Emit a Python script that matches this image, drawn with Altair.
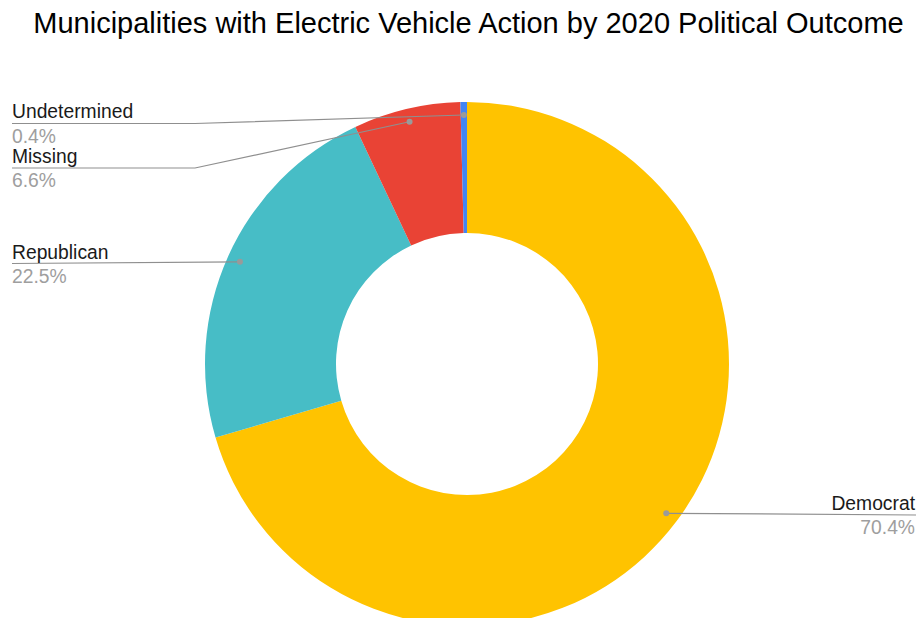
import numpy as np
import pandas as pd
import altair as alt

# ---- data ----
categories = ["Democrat", "Republican", "Missing", "Undetermined"]
shares = [70.4, 22.5, 6.6, 0.4]
pct_labels = ["70.4%", "22.5%", "6.6%", "0.4%"]
colors = ["#FFC300", "#47BDC6", "#E94335", "#4285F4"]
title_text = "Municipalities with Electric Vehicle Action by 2020 Political Outcome"

# ---- layout (pixel positions within the view) ----
W, H = 908, 610
CX, CY = 459, 356
R_OUT, R_IN, R_DOT = 262, 131, 249
label_side = {"Democrat": "right", "Republican": "left", "Missing": "left", "Undetermined": "left"}
label_x = {"Democrat": 907, "Republican": 4, "Missing": 4, "Undetermined": 4}
name_y = {"Democrat": 502, "Republican": 250.5, "Missing": 155, "Undetermined": 110}
pct_y = {"Democrat": 525.5, "Republican": 274.5, "Missing": 179, "Undetermined": 135}
line_y = {"Democrat": 507, "Republican": 255.5, "Missing": 160, "Undetermined": 115.5}
elbow_x = {"Republican": None, "Missing": 187, "Undetermined": 187}

# ---- derived tables ----
df = pd.DataFrame({"category": categories, "share": shares, "pct": pct_labels,
                   "idx": range(len(categories))})
total = float(np.sum(shares))
cum = np.cumsum(shares)
mid = (cum - np.array(shares) / 2) / total * 2 * np.pi
df["dot_x"] = CX + R_DOT * np.sin(mid)
df["dot_y"] = CY - R_DOT * np.cos(mid)

line_rows = []
for _, r in df.iterrows():
    c = r["category"]
    if label_side[c] == "right":
        pts = [(r["dot_x"], r["dot_y"]), (label_x[c] + 2, line_y[c])]
    else:
        pts = [(label_x[c], line_y[c])]
        if elbow_x[c] is not None:
            pts.append((elbow_x[c], line_y[c]))
        pts.append((r["dot_x"], r["dot_y"]))
    for k, (px, py) in enumerate(pts):
        line_rows.append({"category": c, "seq": k, "x": px, "y": py})
lines_df = pd.DataFrame(line_rows)

lab_df = pd.DataFrame({
    "category": categories,
    "pct": pct_labels,
    "side": [label_side[c] for c in categories],
    "x": [label_x[c] for c in categories],
    "ny": [name_y[c] for c in categories],
    "py": [pct_y[c] for c in categories],
})

xs = alt.Scale(domain=[0, W], nice=False, zero=False)
ys = alt.Scale(domain=[0, H], nice=False, zero=False, reverse=True)

donut = alt.Chart(df).mark_arc(innerRadius=R_IN, outerRadius=R_OUT).encode(
    theta=alt.Theta("share:Q", stack=True),
    order=alt.Order("idx:Q"),
    color=alt.Color("category:N", scale=alt.Scale(domain=categories, range=colors), legend=None),
    x=alt.value(CX),
    y=alt.value(CY),
)

leaders = alt.Chart(lines_df).mark_line(color="#8f8f8f", strokeWidth=1.2).encode(
    x=alt.X("x:Q", scale=xs, axis=None),
    y=alt.Y("y:Q", scale=ys, axis=None),
    detail="category:N",
    order="seq:Q",
)

dots = alt.Chart(df).mark_circle(color="#9a9a9a", opacity=1, size=36).encode(
    x=alt.X("dot_x:Q", scale=xs, axis=None),
    y=alt.Y("dot_y:Q", scale=ys, axis=None),
)

FONT = "Liberation Sans"
left = lab_df[lab_df.side == "left"]
right = lab_df[lab_df.side == "right"]

def labels(data, align):
    names = alt.Chart(data).mark_text(align=align, baseline="alphabetic", font=FONT,
                                      fontSize=19.3, color="#1a1a1a").encode(
        x=alt.X("x:Q", scale=xs, axis=None),
        y=alt.Y("ny:Q", scale=ys, axis=None),
        text="category:N",
    )
    pcts = alt.Chart(data).mark_text(align=align, baseline="alphabetic", font=FONT,
                                     fontSize=19.3, color="#9e9e9e").encode(
        x=alt.X("x:Q", scale=xs, axis=None),
        y=alt.Y("py:Q", scale=ys, axis=None),
        text="pct:N",
    )
    return names + pcts

title_df = pd.DataFrame({"t": [title_text], "x": [460.5], "y": [25]})
title = alt.Chart(title_df).mark_text(align="center", baseline="alphabetic", font=FONT,
                                      fontSize=29, color="#000000").encode(
    x=alt.X("x:Q", scale=xs, axis=None),
    y=alt.Y("y:Q", scale=ys, axis=None),
    text="t:N",
)

chart = alt.layer(donut, leaders, dots, labels(left, "left"), labels(right, "right"), title).properties(
    width=W, height=H, autosize="none", padding=0
).configure_view(stroke=None)

chart.save("out.html", embed_options={"renderer": "svg", "actions": False})
